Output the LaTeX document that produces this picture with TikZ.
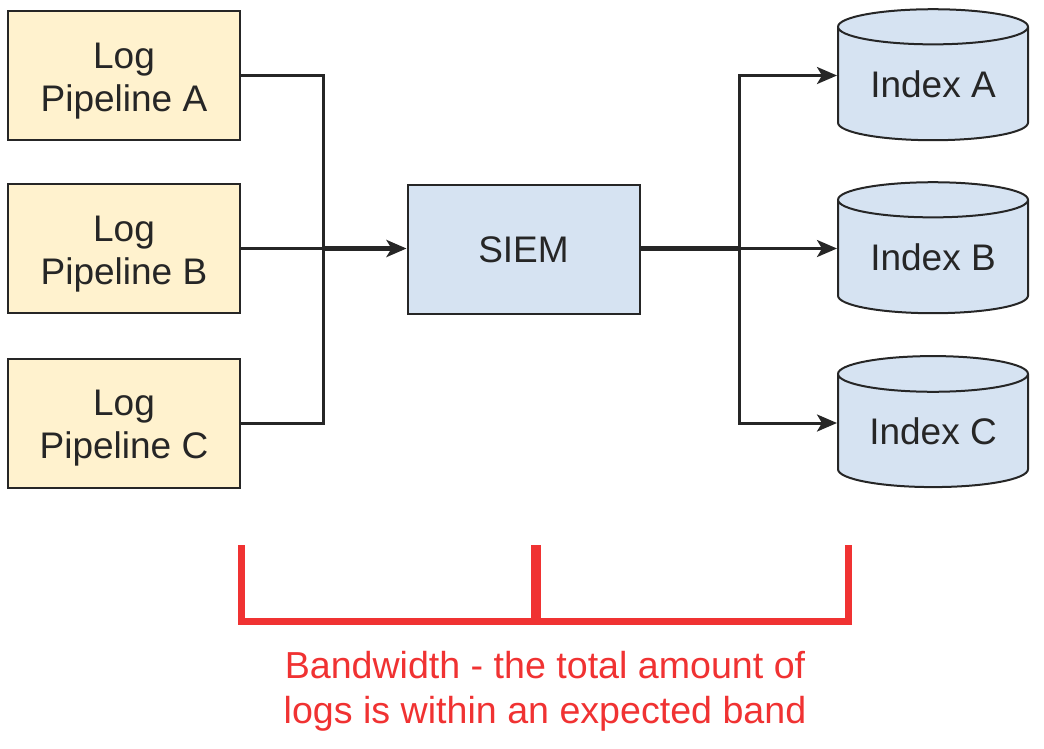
\documentclass[tikz,border=0pt]{standalone}
\usepackage{fontspec}
\setmainfont{Liberation Sans}
\usetikzlibrary{arrows.meta,positioning,shapes.geometric}
\definecolor{paleyellow}{RGB}{255,242,206}
\definecolor{paleblue}{RGB}{214,227,242}
\definecolor{darkline}{RGB}{38,38,38}
\definecolor{alertred}{RGB}{240,50,50}

\begin{document}
\begin{tikzpicture}[
    x=1pt, y=-1pt,
    pipe/.style={rectangle, draw=darkline, line width=2pt, fill=paleyellow, text=darkline,
        minimum width=232pt, minimum height=129pt, align=center, inner sep=0pt,
        text height=80pt, text depth=9pt, font=\fontsize{37}{43}\selectfont},
    hub/.style={rectangle, draw=darkline, line width=2pt, fill=paleblue, text=darkline,
        minimum width=232pt, minimum height=129pt, inner sep=0pt,
        font=\fontsize{37}{43}\selectfont},
    store/.style={cylinder, shape border rotate=90, aspect=0.28, draw=darkline, line width=2pt,
        fill=paleblue, text=darkline, minimum width=190pt, minimum height=131pt, inner sep=0pt,
        font=\fontsize{37}{43}\selectfont},
    link/.style={draw=darkline, line width=3pt},
    feed/.style={draw=darkline, line width=4.5pt},
    arr/.style={link, -{Stealth[length=20pt, width=17pt, inset=5pt]}},
    band/.style={draw=alertred, line width=7pt}
]
\useasboundingbox (0,0) rectangle (1044,748);

% sources
\node[pipe] (pa) at (124,75.5) {Log\\Pipeline A};
\node[pipe] (pb) at (124,248.5) {Log\\Pipeline B};
\node[pipe] (pc) at (124,423) {Log\\Pipeline C};

\node[hub] (siem) at (523.5,249.5) {SIEM};

% indexes
\node[store] (ia) at (933,84) {Index A};
\node[store] (ib) at (933,257) {Index B};
\node[store] (ic) at (933,431) {Index C};

\coordinate (jin) at (323,248.5);
\coordinate (jout) at (739,248.5);

\draw[link] (pa.east) -| (jin);
\draw[link] (pc.east) -| (jin);
\draw[link] (pb.east) -- (jin);
\draw[feed, -{Stealth[length=20pt, width=17pt, inset=5pt]}] (jin) -- (siem.west |- jin);
\draw[feed] (siem.east |- jout) -- (jout);
\draw[arr] (jout) |- (ia.west |- pa.east);
\draw[arr] (jout) -- (ib.west |- jout);
\draw[arr] (jout) |- (ic.west |- pc.east);

% bandwidth bracket
\coordinate (bl) at (241,545);
\coordinate (bm) at (536,545);
\coordinate (br) at (848,545);
\draw[band] (bl) -- ++(0,76) -| (br);
\draw[band, line width=10pt] (bm) -- ++(0,76);
\node[text=alertred, align=center, font=\fontsize{37.6}{45}\selectfont] (note) at (545,691)
    {Bandwidth - the total amount of\\logs is within an expected band};
\end{tikzpicture}
\end{document}
